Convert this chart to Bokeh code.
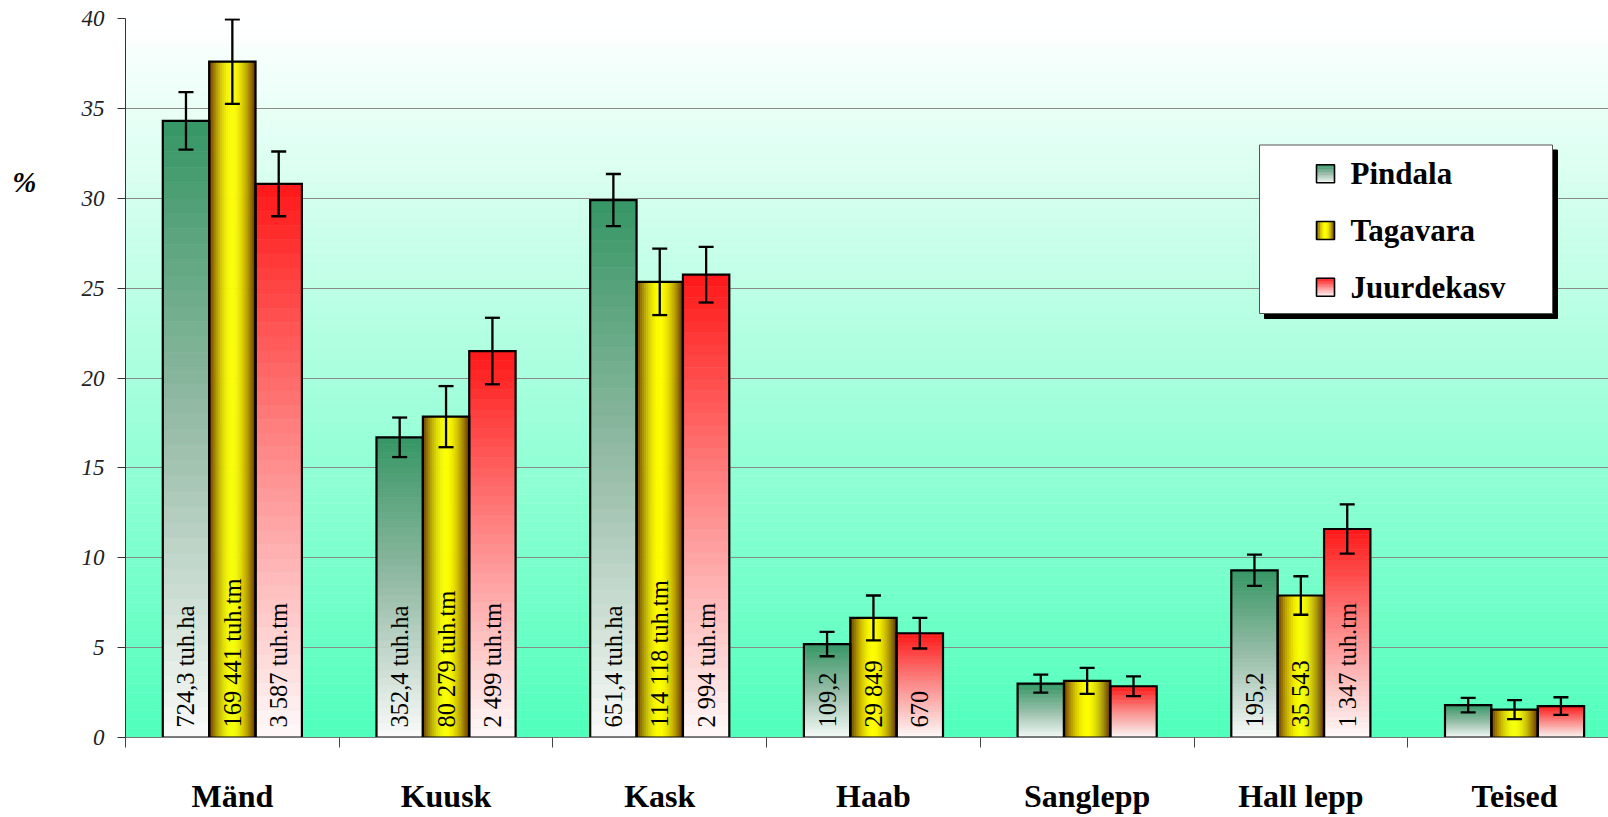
import numpy as np
from bokeh.plotting import figure
from bokeh.models import (Range1d, FixedTicker, ColumnDataSource, Whisker, TeeHead, LinearAxis)
from bokeh.embed import file_html
from bokeh.resources import INLINE
from bokeh.core.properties import value

# ---------------- data ----------------
categories = ["Mänd", "Kuusk", "Kask", "Haab", "Sanglepp", "Hall lepp", "Teised"]
series_names = ["Pindala", "Tagavara", "Juurdekasv"]

pindala = [34.3, 16.7, 29.9, 5.2, 3.0, 9.3, 1.8]
pindala_err = [1.6, 1.1, 1.45, 0.68, 0.5, 0.87, 0.4]
tagavara = [37.6, 17.85, 25.35, 6.65, 3.15, 7.9, 1.55]
tagavara_err = [2.35, 1.7, 1.85, 1.25, 0.72, 1.07, 0.53]
juurdekasv = [30.8, 21.5, 25.75, 5.8, 2.85, 11.6, 1.75]
juurdekasv_err = [1.8, 1.85, 1.55, 0.85, 0.55, 1.37, 0.49]

pindala_labels = ["724,3 tuh.ha", "352,4 tuh.ha", "651,4 tuh.ha", "109,2", "", "195,2", ""]
tagavara_labels = ["169 441 tuh.tm", "80 279 tuh.tm", "114 118 tuh.tm", "29 849", "", "35 543", ""]
juurdekasv_labels = ["3 587 tuh.tm", "2 499 tuh.tm", "2 994 tuh.tm", "670", "", "1 347 tuh.tm", ""]

y_ticks = [0, 5, 10, 15, 20, 25, 30, 35, 40]
y_unit_label = "%"

# ---------------- layout constants ----------------
W, H = 1608, 817
BL, BR, BT, BB = 125, 0, 18, 80
FRAME_W = W - BL - BR
FRAME_H = H - BT - BB
CAT_PX = 213.7
X_END = FRAME_W / CAT_PX
Y_END = 40.0
PX_X = 1.0 / CAT_PX          # data units per px in x
PX_Y = Y_END / FRAME_H       # data units per px in y
BAR_W = 0.217
OFFSETS = [-BAR_W, 0.0, BAR_W]
UNIT_LABEL_Y = 30.9          # vertical position of the "%" label (in axis units)

FONT = "Liberation Serif"

# gradient stops (bottom, middle, top)
GREEN_STOPS = [(250, 251, 250), (152, 188, 168), (54, 150, 100)]
RED_STOPS = [(255, 250, 250), (255, 140, 140), (255, 24, 24)]
WHITE = (255, 255, 255)
YELLOW = (255, 255, 0)
BROWN = (100, 45, 0)
BG_BOTTOM = (80, 255, 188)


def hexc(c):
    return "#%02x%02x%02x" % tuple(int(round(v)) for v in c)


def lerp(a, b, t):
    return tuple(a[i] + (b[i] - a[i]) * t for i in range(3))


def stops(st, t):
    if t < 0.5:
        return lerp(st[0], st[1], t / 0.5)
    return lerp(st[1], st[2], (t - 0.5) / 0.5)


p = figure(width=W, height=H, output_backend="svg", toolbar_location=None,
           x_range=Range1d(0, X_END), y_range=Range1d(0, Y_END),
           min_border_left=BL, min_border_right=BR, min_border_top=BT,
           min_border_bottom=BB)
p.outline_line_color = None
p.background_fill_color = "white"
p.border_fill_color = "white"

# ---- background gradient (plot area) ----
NBG = 80
bg_b = np.linspace(0, Y_END, NBG, endpoint=False)
bg_t = bg_b + Y_END / NBG
bg_cols = [hexc(lerp(BG_BOTTOM, WHITE, (b + Y_END / NBG / 2) / Y_END)) for b in bg_b]
bg = p.quad(left=0, right=X_END, bottom=bg_b, top=bg_t, fill_color=bg_cols,
            line_color=bg_cols, line_width=0.5)
bg.level = "image"

# ---- bars ----
values = [pindala, tagavara, juurdekasv]
errors = [pindala_err, tagavara_err, juurdekasv_err]
labels = [pindala_labels, tagavara_labels, juurdekasv_labels]

NV = 40
NH = 24
gl, gr, gb, gt, gc = [], [], [], [], []
for s in range(3):
    for i, v in enumerate(values[s]):
        xc = i + 0.5 + OFFSETS[s]
        x0, x1 = xc - BAR_W / 2, xc + BAR_W / 2
        if s in (0, 2):
            st = GREEN_STOPS if s == 0 else RED_STOPS
            for k in range(NV):
                gl.append(x0); gr.append(x1)
                gb.append(v * k / NV); gt.append(v * (k + 1) / NV)
                gc.append(hexc(stops(st, (k + 0.5) / NV)))
        else:
            for j in range(NH):
                u = (j + 0.5) / NH
                d = abs(u * 2 - 1)
                gl.append(x0 + (x1 - x0) * j / NH); gr.append(x0 + (x1 - x0) * (j + 1) / NH)
                gb.append(0); gt.append(v)
                gc.append(hexc(lerp(YELLOW, BROWN, d ** 1.8)))
p.quad(left=gl, right=gr, bottom=gb, top=gt, fill_color=gc, line_color=gc, line_width=0.6)

# outlines
ol, orr, ot = [], [], []
for s in range(3):
    for i, v in enumerate(values[s]):
        xc = i + 0.5 + OFFSETS[s]
        ol.append(xc - BAR_W / 2); orr.append(xc + BAR_W / 2); ot.append(v)
p.quad(left=ol, right=orr, bottom=0, top=ot, fill_alpha=0, line_color="black",
       line_width=2.2, line_join="miter")

# value labels inside bars
tx, tt = [], []
for s in range(3):
    for i in range(len(categories)):
        tx.append(i + 0.5 + OFFSETS[s]); tt.append(labels[s][i])
p.text(x=tx, y=[0] * len(tx), text=tt, angle=np.pi / 2, text_align="left",
       text_baseline="middle", y_offset=-10, text_font=value(FONT),
       text_font_size="24.5px", text_color="black")

# error bars
ex, eu, elo = [], [], []
for s in range(3):
    for i, v in enumerate(values[s]):
        ex.append(i + 0.5 + OFFSETS[s]); eu.append(v + errors[s][i]); elo.append(v - errors[s][i])
esrc = ColumnDataSource(dict(x=ex, upper=eu, lower=elo))
wh = Whisker(base="x", upper="upper", lower="lower", source=esrc, dimension="height",
             line_width=2.3, line_color="black",
             upper_head=TeeHead(size=15, line_width=2.3, line_color="black"),
             lower_head=TeeHead(size=15, line_width=2.3, line_color="black"))
wh.level = "annotation"
p.add_layout(wh)

# ---- axes ----
p.xgrid.visible = False
p.ygrid.ticker = FixedTicker(ticks=y_ticks)
p.ygrid.grid_line_color = "#8a8a8a"
p.ygrid.grid_line_width = 1

p.yaxis.ticker = FixedTicker(ticks=y_ticks)
p.yaxis.major_tick_out = 8
p.yaxis.major_tick_in = 0
p.yaxis.minor_tick_line_color = None
p.yaxis.axis_line_color = "#333333"
p.yaxis.major_tick_line_color = "#333333"
p.yaxis.major_label_text_font = FONT
p.yaxis.major_label_text_font_style = "italic"
p.yaxis.major_label_text_font_size = "23px"
p.yaxis.major_label_text_color = "#222222"
p.yaxis.major_label_standoff = 13

# horizontal "%" unit label as an extra left axis with a single labelled tick
unit_axis = LinearAxis(ticker=FixedTicker(ticks=[UNIT_LABEL_Y]),
                       major_label_overrides={UNIT_LABEL_Y: y_unit_label},
                       axis_line_color=None, major_tick_line_color=None,
                       minor_tick_line_color=None, major_tick_out=0, major_tick_in=0,
                       major_label_standoff=42,
                       major_label_text_font=FONT,
                       major_label_text_font_style="bold italic",
                       major_label_text_font_size="29px",
                       major_label_text_color="black")
p.add_layout(unit_axis, "left")

centers = [i + 0.5 for i in range(len(categories))]
p.xaxis.ticker = FixedTicker(ticks=centers, minor_ticks=list(range(len(categories) + 1)))
p.xaxis.major_label_overrides = {c: name for c, name in zip(centers, categories)}
p.xaxis.major_tick_out = 0
p.xaxis.major_tick_in = 0
p.xaxis.minor_tick_out = 10
p.xaxis.minor_tick_in = 0
p.xaxis.minor_tick_line_color = "#444444"
p.xaxis.axis_line_color = "#777777"
p.xaxis.major_label_text_font = FONT
p.xaxis.major_label_text_font_style = "bold"
p.xaxis.major_label_text_font_size = "32px"
p.xaxis.major_label_text_color = "black"
p.xaxis.major_label_standoff = 30


# ---- legend (drawn in plot coordinates): shadow, box, gradient markers, labels ----
def dx(px):  # page px -> data x
    return (px - BL) * PX_X


def dy(py):  # page px -> data y
    return (BT + FRAME_H - py) * PX_Y


BOX = (1259, 1552, 144.5, 313)
p.quad(left=dx(BOX[0] + 5), right=dx(BOX[1] + 5), top=dy(BOX[2] + 5), bottom=dy(BOX[3] + 5),
       fill_color="black", line_color="black")
p.quad(left=dx(BOX[0]), right=dx(BOX[1]), top=dy(BOX[2]), bottom=dy(BOX[3]),
       fill_color="white", line_color="#555555", line_width=1)

row_y = [173.3, 230.0, 286.7]
MK = 18
mx0, mx1 = 1316, 1316 + MK
ml, mr, mb, mt, mc = [], [], [], [], []
for s in range(3):
    cy = row_y[s]
    y0p, y1p = cy + MK / 2, cy - MK / 2
    if s in (0, 2):
        st = GREEN_STOPS if s == 0 else RED_STOPS
        n = 12
        for k in range(n):
            ml.append(dx(mx0)); mr.append(dx(mx1))
            mb.append(dy(y0p - MK * k / n)); mt.append(dy(y0p - MK * (k + 1) / n))
            mc.append(hexc(stops(st, (k + 0.5) / n)))
    else:
        n = 10
        for j in range(n):
            u = (j + 0.5) / n
            d = abs(u * 2 - 1)
            ml.append(dx(mx0 + MK * j / n)); mr.append(dx(mx0 + MK * (j + 1) / n))
            mb.append(dy(y0p)); mt.append(dy(y1p))
            mc.append(hexc(lerp(YELLOW, BROWN, d ** 1.8)))
p.quad(left=ml, right=mr, bottom=mb, top=mt, fill_color=mc, line_color=mc, line_width=0.5)
p.quad(left=[dx(mx0)] * 3, right=[dx(mx1)] * 3,
       bottom=[dy(c + MK / 2) for c in row_y], top=[dy(c - MK / 2) for c in row_y],
       fill_alpha=0, line_color="black", line_width=1.6)
p.text(x=[dx(1350)] * 3, y=[dy(c) for c in row_y], text=series_names,
       text_align="left", text_baseline="middle", text_font=value(FONT),
       text_font_style="bold", text_font_size="31px", text_color="black")

open("out.html", "w").write(file_html(p, INLINE))
